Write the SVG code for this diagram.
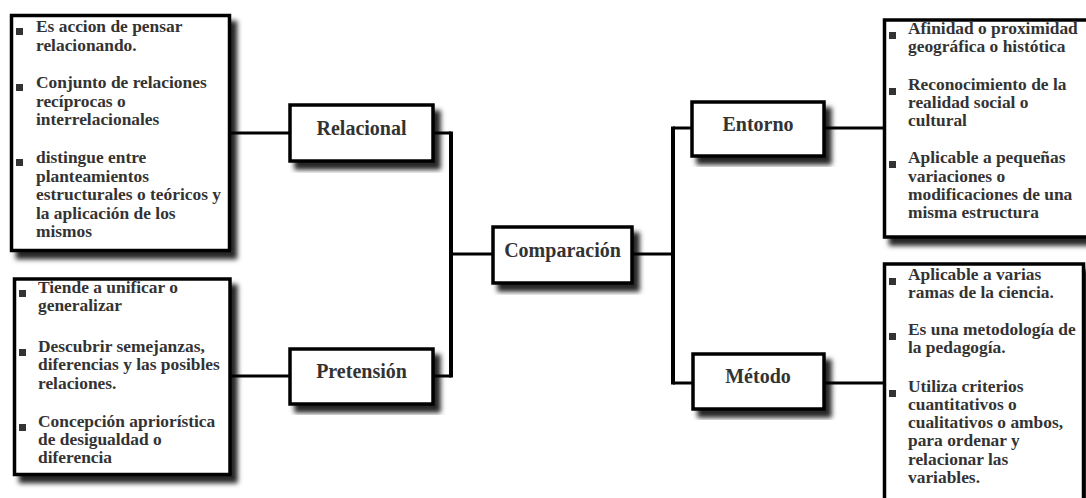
<svg xmlns="http://www.w3.org/2000/svg" width="1086" height="498" viewBox="0 0 1086 498">
<defs>
<filter id="sh" x="-10%" y="-10%" width="130%" height="130%">
<feDropShadow dx="6" dy="7" stdDeviation="2.5" flood-color="#000" flood-opacity="0.85"/>
</filter>
</defs>
<style>
.box{fill:#fff;stroke:#000;stroke-width:3.5;filter:url(#sh)}
.lbl{font-family:"Liberation Serif","Times New Roman",serif;font-weight:bold;font-size:20px;fill:#333;text-anchor:middle}
.txt{font-family:"Liberation Serif","Times New Roman",serif;font-weight:bold;font-size:17.4px;fill:#333}
.bul{fill:#333}
.c{stroke:#000;stroke-width:3;fill:none}
.v{stroke:#000;stroke-width:4;fill:none}
</style>
<rect width="1086" height="498" fill="#fff"/>
<g id="connectors">
<line class="c" x1="230" y1="133" x2="290" y2="133"/>
<line class="c" x1="230" y1="376" x2="290" y2="376"/>
<line class="c" x1="433" y1="133" x2="451" y2="133"/>
<line class="c" x1="433" y1="376" x2="451" y2="376"/>
<line class="v" x1="451" y1="131.5" x2="451" y2="377.5"/>
<line class="c" x1="451" y1="254" x2="493" y2="254"/>
<line class="c" x1="632" y1="254" x2="673" y2="254"/>
<line class="v" x1="673" y1="126.5" x2="673" y2="384.5"/>
<line class="c" x1="673" y1="128" x2="692" y2="128"/>
<line class="c" x1="673" y1="383" x2="693" y2="383"/>
<line class="c" x1="824" y1="128" x2="884" y2="128"/>
<line class="c" x1="824" y1="383" x2="884" y2="383"/>
</g>
<g id="n-relacional-list">
<rect class="box" x="11.5" y="15.5" width="218" height="235"/>
<rect class="bul" x="16" y="28" width="7" height="7"/>
<rect class="bul" x="16" y="84" width="7" height="7"/>
<rect class="bul" x="16" y="159" width="7" height="7"/>
<text class="txt"><tspan x="36" y="32">Es accion de pensar</tspan><tspan x="36" y="50.5">relacionando.</tspan><tspan x="36" y="88">Conjunto de relaciones</tspan><tspan x="36" y="106.5">recíprocas o</tspan><tspan x="36" y="125">interrelacionales</tspan><tspan x="36" y="163">distingue entre</tspan><tspan x="36" y="181.5">planteamientos</tspan><tspan x="36" y="200">estructurales o teóricos y</tspan><tspan x="36" y="218.5">la aplicación de los</tspan><tspan x="36" y="237">mismos</tspan></text>
</g>
<g id="n-pretension-list">
<rect class="box" x="14.5" y="279" width="215.5" height="195.5"/>
<rect class="bul" x="19" y="290" width="7" height="7"/>
<rect class="bul" x="19" y="349" width="7" height="7"/>
<rect class="bul" x="19" y="424" width="7" height="7"/>
<text class="txt"><tspan x="38" y="293">Tiende a unificar o</tspan><tspan x="38" y="311">generalizar</tspan><tspan x="38" y="352">Descubrir semejanzas,</tspan><tspan x="38" y="370">diferencias y las posibles</tspan><tspan x="38" y="388.5">relaciones.</tspan><tspan x="38" y="427">Concepción apriorística</tspan><tspan x="38" y="445">de desigualdad o</tspan><tspan x="38" y="463">diferencia</tspan></text>
</g>
<g id="n-relacional">
<rect class="box" x="290" y="105" width="143" height="56"/>
<text class="lbl" x="361.5" y="134.5">Relacional</text>
</g>
<g id="n-pretension">
<rect class="box" x="290" y="349" width="143" height="55"/>
<text class="lbl" x="361.5" y="378">Pretensión</text>
</g>
<g id="n-comparacion">
<rect class="box" x="493" y="227" width="139" height="56"/>
<text class="lbl" x="562.5" y="257">Comparación</text>
</g>
<g id="n-entorno">
<rect class="box" x="692" y="102" width="132" height="54"/>
<text class="lbl" x="758" y="131">Entorno</text>
</g>
<g id="n-metodo">
<rect class="box" x="693" y="354" width="131" height="55"/>
<text class="lbl" x="758" y="383">Método</text>
</g>
<g id="n-entorno-list">
<rect class="box" x="884.5" y="20" width="210" height="217"/>
<rect class="bul" x="889" y="32" width="7" height="7"/>
<rect class="bul" x="889" y="88" width="7" height="7"/>
<rect class="bul" x="889" y="161" width="7" height="7"/>
<text class="txt"><tspan x="908" y="34">Afinidad o proximidad</tspan><tspan x="908" y="52">geográfica o histótica</tspan><tspan x="908" y="90">Reconocimiento de la</tspan><tspan x="908" y="108">realidad social o</tspan><tspan x="908" y="126">cultural</tspan><tspan x="908" y="163">Aplicable a pequeñas</tspan><tspan x="908" y="181.5">variaciones o</tspan><tspan x="908" y="200">modificaciones de una</tspan><tspan x="908" y="218">misma estructura</tspan></text>
</g>
<g id="n-metodo-list">
<rect class="box" x="884.5" y="264" width="199" height="250"/>
<rect class="bul" x="889" y="278" width="7" height="7"/>
<rect class="bul" x="889" y="333" width="7" height="7"/>
<rect class="bul" x="889" y="390" width="7" height="7"/>
<text class="txt"><tspan x="908" y="280">Aplicable a varias</tspan><tspan x="908" y="298">ramas de la ciencia.</tspan><tspan x="908" y="335">Es una metodología de</tspan><tspan x="908" y="353">la pedagogía.</tspan><tspan x="908" y="392">Utiliza criterios</tspan><tspan x="908" y="410">cuantitativos o</tspan><tspan x="908" y="428">cualitativos o ambos,</tspan><tspan x="908" y="446">para ordenar y</tspan><tspan x="908" y="464.5">relacionar las</tspan><tspan x="908" y="483">variables.</tspan></text>
</g>
</svg>
